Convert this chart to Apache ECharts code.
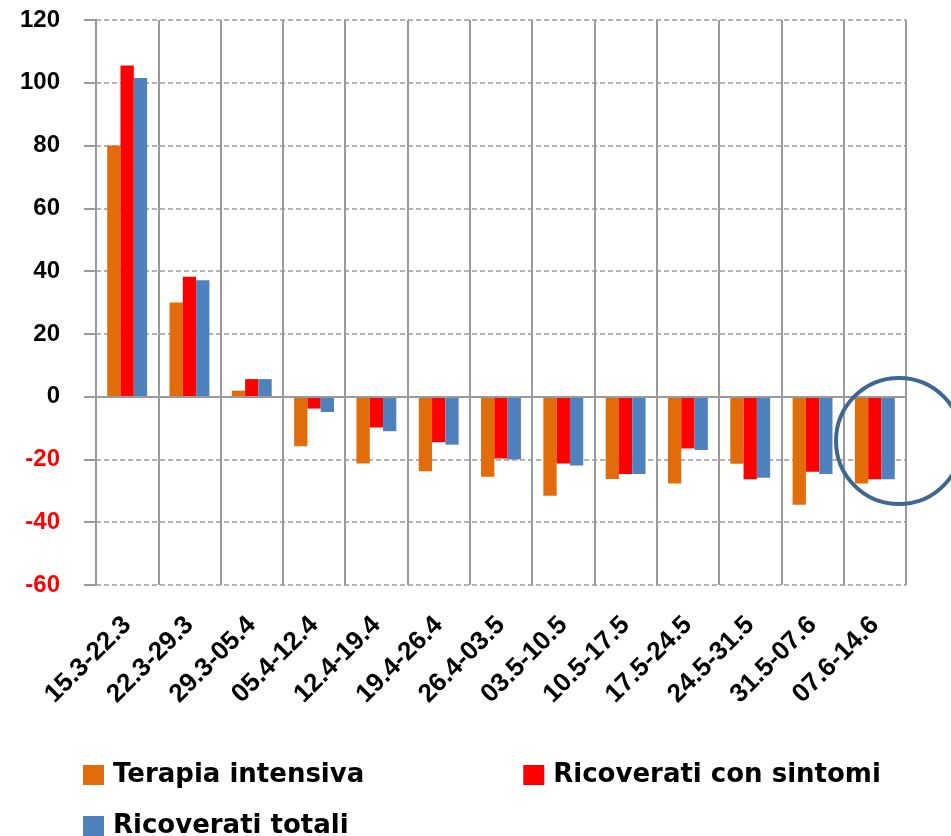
<!DOCTYPE html>
<html>
<head>
<meta charset="utf-8">
<script src="https://cdn.jsdelivr.net/npm/echarts@6/dist/echarts.min.js"></script>
<style>
  html, body { margin: 0; padding: 0; background: #fff; }
  #chart { width: 951px; height: 836px; }
</style>
</head>
<body>
<div id="chart"></div>
<script>
// settimane
var categories = ['15.3-22.3', '22.3-29.3', '29.3-05.4', '05.4-12.4', '12.4-19.4', '19.4-26.4',
	'26.4-03.5', '03.5-10.5', '10.5-17.5', '17.5-24.5', '24.5-31.5', '31.5-07.6', '07.6-14.6'];

// variazioni % settimanali
var terapiaIntensiva = [80, 30, 1.9, -15.8, -21.3, -23.8, -25.5, -31.6, -26.2, -27.7, -21.4, -34.4, -27.7];
var ricoveratiSintomi = [105.5, 38.2, 5.6, -3.8, -9.8, -14.5, -19.7, -21.3, -24.6, -16.5, -26.3, -23.9, -26.3];
var ricoveratiTotali = [101.5, 37.1, 5.6, -4.9, -11, -15.3, -20, -21.9, -24.6, -17, -25.8, -24.6, -26.3];

var yTicks = [-60, -40, -20, 0, 20, 40, 60, 80, 100, 120];

var gridColor = '#9a9a9a';
var fontFam = '"Liberation Sans", Arial, sans-serif';
var legendFont = '"DejaVu Sans", sans-serif';

var chart = echarts.init(document.getElementById('chart'));

var legendText = {
	fontFamily: legendFont,
	fontSize: 26,
	fontWeight: 'bold',
	color: '#000',
	padding: [0, 0, 0, 4]
};

var option = {
	backgroundColor: '#fff',
	animation: false,
	grid: {
		left: 96,
		right: 45,
		top: 20,
		bottom: 251
	},
	legend: [{
		left: 78,
		top: 757,
		itemWidth: 21,
		itemHeight: 20,
		itemGap: 159,
		icon: 'rect',
		textStyle: legendText,
		data: ['Terapia intensiva', 'Ricoverati con sintomi']
	}, {
		left: 78,
		top: 808,
		itemWidth: 21,
		itemHeight: 20,
		icon: 'rect',
		textStyle: legendText,
		data: ['Ricoverati totali']
	}],
	xAxis: {
		type: 'category',
		data: categories,
		axisLine: { show: false, onZero: false },
		axisTick: { show: false },
		splitLine: { show: true, lineStyle: { color: gridColor, width: 2 } },
		axisLabel: {
			rotate: 45,
			interval: 0,
			margin: 36,
			color: '#000',
			fontFamily: fontFam,
			fontSize: 26,
			fontWeight: 'bold'
		}
	},
	yAxis: {
		type: 'value',
		min: yTicks[0],
		max: yTicks[yTicks.length - 1],
		interval: 20,
		axisLine: { show: true, lineStyle: { color: gridColor, width: 2 } },
		axisTick: { show: true, length: 12, lineStyle: { color: gridColor, width: 2 } },
		splitLine: { show: true, lineStyle: { color: gridColor, type: [5, 3], width: 1.5 } },
		axisLabel: {
			margin: 36,
			fontFamily: fontFam,
			fontSize: 24,
			fontWeight: 'bold',
			color: function (value) {
				return value < 0 ? '#ff0000' : '#000';
			}
		}
	},
	series: [{
		name: 'Terapia intensiva',
		type: 'bar',
		barGap: '0%',
		barCategoryGap: '36%',
		itemStyle: { color: '#e36c0a' },
		data: terapiaIntensiva,
		markLine: {
			silent: true,
			symbol: 'none',
			label: { show: false },
			lineStyle: { color: gridColor, type: 'solid', width: 2 },
			data: [{ yAxis: 0 }]
		},
		z: 3
	}, {
		name: 'Ricoverati con sintomi',
		type: 'bar',
		itemStyle: { color: '#ff0000' },
		data: ricoveratiSintomi,
		z: 3
	}, {
		name: 'Ricoverati totali',
		type: 'bar',
		itemStyle: { color: '#4f81bd' },
		data: ricoveratiTotali,
		z: 3
	}],
	graphic: [{
		type: 'circle',
		shape: { cx: 899, cy: 441, r: 63 },
		style: { fill: 'none', stroke: '#3f6794', lineWidth: 4 },
		z: 100
	}]
};

chart.setOption(option);
</script>
</body>
</html>
